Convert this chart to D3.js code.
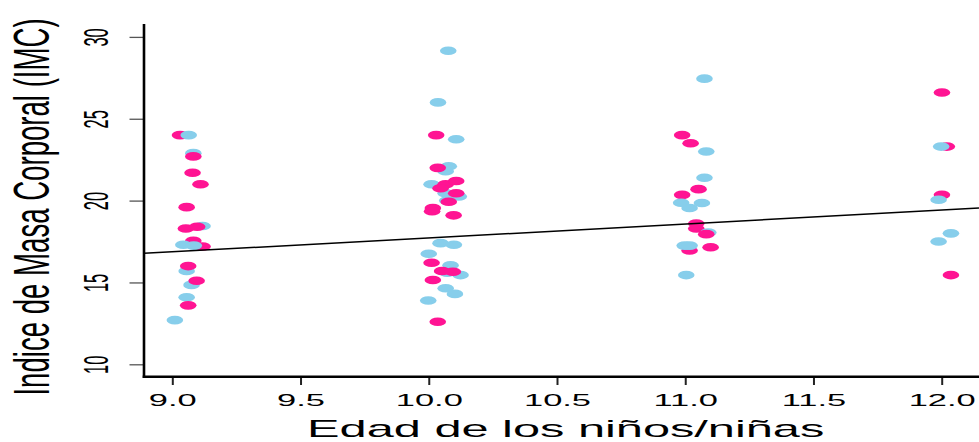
<!DOCTYPE html>
<html lang="es">
<head>
  <meta charset="UTF-8">
  <title>IMC por edad</title>
  <script src="https://d3js.org/d3.v7.min.js"></script>
  <style>
    body { margin: 0; background: #fff; }
    text { font-family: "Liberation Sans", Arial, sans-serif; fill: #000; }
  </style>
</head>
<body>
  <svg id="chart" width="979" height="442"></svg>
  <script>
    // jittered ages, IMC values and sex (F = niña, M = niño), in plot order
    const edad = [
      9.030, 9.064, 9.082, 9.082, 9.079, 9.110, 9.056, 9.118, 9.053, 9.097,
      9.118, 9.082, 9.043, 9.084, 9.056, 9.062, 9.075, 9.095, 9.056, 9.062, 9.010,
      10.076, 10.036, 10.029, 10.107, 10.066, 10.078, 10.035, 10.011, 10.066, 10.117,
      10.072, 10.066, 10.107, 10.046, 10.107, 10.078, 10.016, 10.013, 10.097, 10.046,
      10.098, 10.000, 10.011, 10.085, 10.124, 10.072, 10.052, 10.094, 10.016, 10.066,
      10.102, 9.998, 10.035,
      11.075, 10.988, 11.021, 11.082, 11.075, 11.052, 10.988, 10.984, 11.065, 11.017,
      11.043, 11.043, 11.090, 11.082, 11.017, 10.998, 11.017, 11.099, 11.004,
      12.001, 12.020, 11.998, 12.001, 11.988, 12.036, 11.988, 12.036
    ];
    const imc = [
      24.0, 24.0, 22.9, 22.7, 21.7, 21.0, 19.6, 18.45, 18.3, 18.4,
      17.2, 17.55, 17.3, 17.25, 15.7, 16.0, 14.85, 15.1, 14.1, 13.6, 12.7,
      29.15, 26.0, 24.0, 23.75, 21.8, 22.1, 22.0, 21.0, 20.45, 20.25,
      20.0, 21.0, 21.2, 20.75, 20.45, 19.93, 19.55, 19.35, 19.1, 17.4,
      17.3, 16.75, 16.2, 16.05, 15.45, 15.6, 15.7, 15.65, 15.15, 14.65,
      14.3, 13.9, 12.6,
      27.45, 24.0, 23.5, 23.0, 21.4, 20.7, 20.35, 19.87, 19.85, 19.55,
      18.6, 18.3, 18.05, 17.95, 16.95, 17.25, 17.25, 17.15, 15.45,
      26.6, 23.3, 23.3, 20.35, 20.05, 18.0, 17.5, 15.45
    ];
    const sexo = [
      "F", "M", "M", "F", "F", "F", "F", "M", "F", "F",
      "F", "F", "M", "M", "M", "F", "M", "F", "M", "F", "M",
      "M", "M", "F", "M", "M", "M", "F", "M", "M", "M",
      "M", "F", "F", "F", "F", "F", "F", "F", "F", "M",
      "M", "M", "F", "M", "M", "M", "F", "F", "F", "M",
      "M", "M", "F",
      "M", "F", "F", "M", "M", "F", "F", "M", "M", "M",
      "F", "F", "M", "F", "F", "M", "M", "F", "M",
      "F", "F", "M", "F", "M", "M", "M", "F"
    ];
    const colores = { F: "#ff1493", M: "#87ceeb" };

    // fitted line  IMC = a + b * edad
    const recta = { a: 9.23, b: 0.849 };

    const xTicks = [9.0, 9.5, 10.0, 10.5, 11.0, 11.5, 12.0];
    const yTicks = [10, 15, 20, 25, 30];

    const svg = d3.select("#chart");

    const x = d3.scaleLinear().domain([9, 12]).range([172.3, 941.7]);
    const y = d3.scaleLinear().domain([10, 30]).range([364.3, 36.9]);

    const plotLeft = 144, plotBottom = 376.7, plotTop = 24, plotRight = 979;
    const sx = 2.05; // the picture is stretched sideways

    // points
    svg.append("g").selectAll("ellipse")
      .data(edad.map((e, i) => ({ e: e, v: imc[i], s: sexo[i] })))
      .enter().append("ellipse")
      .attr("cx", d => x(d.e))
      .attr("cy", d => y(d.v))
      .attr("rx", 8.3)
      .attr("ry", 4.3)
      .attr("fill", d => colores[d.s]);

    // regression line across the plot region
    const x0 = x.invert(plotLeft), x1 = x.invert(plotRight);
    svg.append("line")
      .attr("x1", plotLeft).attr("y1", y(recta.a + recta.b * x0))
      .attr("x2", plotRight).attr("y2", y(recta.a + recta.b * x1))
      .attr("stroke", "#000")
      .attr("stroke-width", 1.5);

    // x axis
    const gx = svg.append("g")
      .attr("transform", `translate(0,${plotBottom})`)
      .call(d3.axisBottom(x).tickValues(xTicks).tickFormat(d3.format(".1f")).tickSize(8.3));
    gx.select(".domain").remove();
    gx.selectAll(".tick line").attr("stroke", "#222").attr("stroke-width", 2);
    gx.selectAll(".tick text")
      .attr("y", 29.3).attr("dy", 0)
      .attr("transform", `scale(${sx},1)`)
      .style("font-size", "16.8px");

    // y axis
    const gy = svg.append("g")
      .attr("transform", `translate(${plotLeft},0)`)
      .call(d3.axisLeft(y).tickValues(yTicks).tickSize(14.5));
    gy.select(".domain").remove();
    gy.selectAll(".tick line").attr("stroke", "#555").attr("stroke-width", 1.3);
    gy.selectAll(".tick text")
      .attr("x", 0).attr("y", 0).attr("dy", 0)
      .attr("text-anchor", "middle")
      .attr("transform", `translate(${108.3 - plotLeft},0) scale(2.12,1) rotate(-90)`)
      .style("font-size", "16.5px");

    // L-shaped frame
    svg.append("line")
      .attr("x1", plotLeft).attr("y1", plotTop).attr("x2", plotLeft).attr("y2", plotBottom + 1.2)
      .attr("stroke", "#000").attr("stroke-width", 2.6);
    svg.append("line")
      .attr("x1", plotLeft - 1.3).attr("y1", plotBottom).attr("x2", plotRight).attr("y2", plotBottom)
      .attr("stroke", "#000").attr("stroke-width", 2.4);

    // axis titles
    svg.append("text")
      .attr("text-anchor", "middle")
      .attr("transform", `translate(565.7,437.3) scale(2.03,1)`)
      .style("font-size", "24px")
      .text("Edad de los niños/niñas");

    svg.append("text")
      .attr("text-anchor", "middle")
      .attr("transform", `translate(49.3,207) scale(1.78,1) rotate(-90)`)
      .style("font-size", "27.6px")
      .text("Indice de Masa Corporal (IMC)");
  </script>
</body>
</html>
